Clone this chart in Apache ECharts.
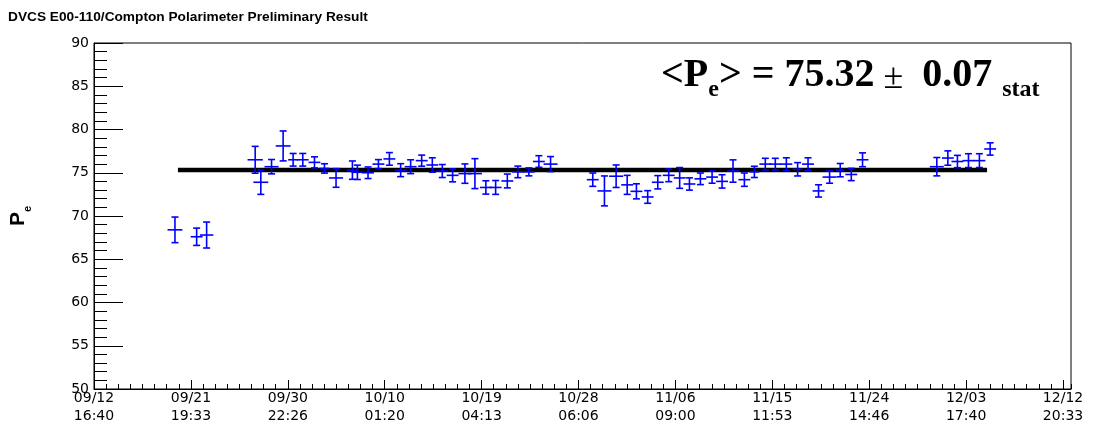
<!DOCTYPE html>
<html>
<head>
<meta charset="utf-8">
<script src="https://cdn.jsdelivr.net/npm/echarts@6/dist/echarts.min.js"></script>
<style>
  html, body { margin: 0; padding: 0; background: #fff; }
  #chart { width: 1097px; height: 425px; }
</style>
</head>
<body>
<div id="chart"></div>
<script>
// x = days since 09/12 16:40
var runDays = [7.62, 9.66, 10.60, 15.17, 15.70, 16.71, 17.80, 18.74, 19.65, 20.75,
    21.69, 22.78, 24.32, 24.79, 25.79, 26.77, 27.80, 28.86, 29.80, 30.84,
    31.84, 32.78, 33.75, 34.91, 35.85, 36.88, 37.80, 38.90, 39.89, 40.93,
    41.87, 42.97, 46.94, 48.04, 49.14, 50.18, 51.05, 52.11, 53.06, 54.09,
    55.12, 56.04, 57.07, 58.17, 59.11, 60.14, 61.21, 62.15, 63.18, 64.12,
    65.16, 66.22, 67.20, 68.19, 69.23, 70.23, 71.27, 72.33, 79.32, 80.36,
    81.26, 82.30, 83.33, 84.34];
// polarisation (%)
var polar = [68.4, 67.6, 67.8, 76.5, 73.9, 75.7, 78.1, 76.5, 76.5, 76.2,
    75.5, 74.4, 75.3, 75.05, 75.0, 76.0, 76.6, 75.3, 75.7, 76.4,
    75.9, 75.2, 74.7, 74.9, 74.9, 73.3, 73.3, 74.05, 75.1, 75.1,
    76.3, 76.0, 74.2, 72.9, 74.6, 73.6, 72.85, 72.2, 73.9, 74.7,
    74.4, 73.7, 74.3, 74.5, 74.0, 75.2, 74.2, 75.1, 76.0, 76.0,
    76.0, 75.4, 76.0, 72.9, 74.5, 75.3, 74.8, 76.5, 75.7, 76.7,
    76.3, 76.4, 76.4, 77.75];
// stat error on polarisation
var polarErr = [1.48, 1.0, 1.5, 1.55, 1.4, 0.83, 1.73, 0.73, 0.73, 0.64,
    0.54, 1.08, 1.06, 0.83, 0.67, 0.52, 0.73, 0.75, 0.8, 0.64,
    0.83, 0.75, 0.75, 1.12, 1.73, 0.77, 0.8, 0.8, 0.67, 0.46,
    0.67, 0.87, 0.77, 1.73, 1.3, 1.1, 0.87, 0.73, 0.77, 0.73,
    1.2, 0.71, 0.67, 0.71, 0.77, 1.29, 0.77, 0.65, 0.67, 0.67,
    0.73, 0.77, 0.73, 0.71, 0.71, 0.77, 0.71, 0.8, 1.06, 0.83,
    0.71, 0.8, 0.8, 0.71];
// half length of run (days)
var runHalf = [0.70, 0.56, 0.63, 0.72, 0.70, 0.66, 0.70, 0.47, 0.55, 0.56,
    0.47, 0.66, 0.56, 0.56, 0.56, 0.56, 0.56, 0.56, 0.56, 0.56,
    0.56, 0.56, 0.56, 0.61, 0.66, 0.56, 0.56, 0.56, 0.56, 0.56,
    0.56, 0.66, 0.56, 0.66, 0.66, 0.56, 0.56, 0.56, 0.56, 0.56,
    0.56, 0.56, 0.56, 0.56, 0.56, 0.56, 0.56, 0.47, 0.56, 0.56,
    0.56, 0.47, 0.56, 0.56, 0.66, 0.40, 0.56, 0.56, 0.66, 0.56,
    0.56, 0.56, 0.56, 0.56];

var meanValue = 75.32;
var meanErr = 0.07;
var meanRange = [7.90, 84.05];

var tickDates = ['09/12', '09/21', '09/30', '10/10', '10/19', '10/28', '11/06', '11/15', '11/24', '12/03', '12/12'];
var tickTimes = ['16:40', '19:33', '22:26', '01:20', '04:13', '06:06', '09:00', '11:53', '14:46', '17:40', '20:33'];
var tickStep = 9.12;   // 9 days 2h53
var xMax = 91.95;

var yTicks = [50, 55, 60, 65, 70, 75, 80, 85, 90];

var myChart = echarts.init(document.getElementById('chart'));

var points = [];
for (var i = 0; i < runDays.length; i++) {
    points.push([runDays[i], polar[i], runHalf[i], polarErr[i]]);
}

// croix d'erreur : barre horizontale sans bout, barre verticale avec bouts
function renderErr(params, api) {
    var x = api.value(0), y = api.value(1), dx = api.value(2), dy = api.value(3);
    var c = api.coord([x, y]);
    var left = api.coord([x - dx, y]);
    var right = api.coord([x + dx, y]);
    var top = api.coord([x, y + dy]);
    var bot = api.coord([x, y - dy]);
    var cap = 3.5;
    var st = { stroke: '#0000ff', lineWidth: 1.6 };
    return {
        type: 'group',
        children: [
            { type: 'line', shape: { x1: left[0], y1: c[1], x2: right[0], y2: c[1] }, style: st },
            { type: 'line', shape: { x1: c[0], y1: top[1], x2: c[0], y2: bot[1] }, style: st },
            { type: 'line', shape: { x1: c[0] - cap, y1: top[1], x2: c[0] + cap, y2: top[1] }, style: st },
            { type: 'line', shape: { x1: c[0] - cap, y1: bot[1], x2: c[0] + cap, y2: bot[1] }, style: st }
        ]
    };
}

var option = {
    animation: false,
    backgroundColor: '#fff',
    title: {
        text: 'DVCS E00-110/Compton Polarimeter Preliminary Result',
        left: 3,
        top: 5,
        textStyle: { fontFamily: 'Liberation Sans', fontWeight: 'bold', fontSize: 13.7, color: '#000' }
    },
    grid: {
        left: 93, right: 26, top: 43, bottom: 35,
        show: true, borderColor: '#000', borderWidth: 1, backgroundColor: 'transparent'
    },
    graphic: [{
        type: 'text',
        left: 661,
        top: 56,
        style: {
            text: '{b|<P}{s|e}{b|> = ' + meanValue.toFixed(2) + '}{pm| ± }{b| ' + meanErr.toFixed(2) + ' }{s|stat}',
            rich: {
                b: { fontFamily: 'Liberation Serif', fontWeight: 'bold', fontSize: 40, lineHeight: 44, verticalAlign: 'top', fill: '#000' },
                pm: { fontFamily: 'Liberation Serif', fontSize: 36, lineHeight: 44, padding: [5, 0, 0, 0], verticalAlign: 'top', fill: '#000' },
                s: { fontFamily: 'Liberation Serif', fontWeight: 'bold', fontSize: 24, lineHeight: 24, padding: [22, 0, 0, 0], verticalAlign: 'top', fill: '#000' }
            }
        }
    }],
    xAxis: [{
        type: 'value',
        min: 0,
        max: xMax,
        interval: tickStep,
        axisLine: { lineStyle: { color: '#000', width: 1 } },
        axisTick: { inside: true, length: 9, lineStyle: { color: '#000' } },
        splitLine: { show: false },
        axisLabel: {
            margin: 0,
            color: '#000',
            fontFamily: 'DejaVu Sans',
            fontSize: 14,
            lineHeight: 18,
            showMaxLabel: false,
            formatter: function (v) {
                var k = Math.round(v / tickStep);
                if (Math.abs(v - k * tickStep) > 0.05 || k >= tickDates.length) return '';
                return tickDates[k] + '\n' + tickTimes[k];
            }
        }
    }, {
        type: 'value',
        position: 'bottom',
        min: 0,
        max: xMax,
        interval: tickStep / 8,
        axisLine: { show: false },
        axisTick: { inside: true, length: 5, lineStyle: { color: '#000' } },
        axisLabel: { show: false },
        splitLine: { show: false }
    }],
    yAxis: {
        type: 'value',
        min: 50,
        max: 90,
        interval: 5,
        name: '{p|P}{e|e}',
        nameLocation: 'middle',
        nameRotate: 90,
        nameGap: 62,
        nameTextStyle: {
            rich: {
                p: { fontFamily: 'Liberation Sans', fontWeight: 'bold', fontSize: 21, color: '#000', lineHeight: 24, verticalAlign: 'top' },
                e: { fontFamily: 'Liberation Sans', fontWeight: 'bold', fontSize: 11, color: '#000', lineHeight: 12, padding: [14, 0, 0, 0], verticalAlign: 'top' }
            }
        },
        axisLine: { lineStyle: { color: '#000', width: 1 } },
        axisTick: { inside: true, length: 29, lineStyle: { color: '#000' } },
        minorTick: { show: true, splitNumber: 5, length: 13, lineStyle: { color: '#000' } },
        splitLine: { show: false },
        axisLabel: {
            margin: 5,
            color: '#000',
            fontFamily: 'DejaVu Sans',
            fontSize: 14,
            formatter: function (v) { return yTicks.indexOf(v) >= 0 ? String(v) : ''; }
        }
    },
    series: [{
        type: 'line',
        data: [[meanRange[0], meanValue], [meanRange[1], meanValue]],
        symbol: 'none',
        lineStyle: { color: '#000', width: 4.5 },
        z: 2
    }, {
        type: 'custom',
        renderItem: renderErr,
        data: points,
        encode: { x: 0, y: 1 },
        z: 3
    }]
};

myChart.setOption(option);
</script>
</body>
</html>
